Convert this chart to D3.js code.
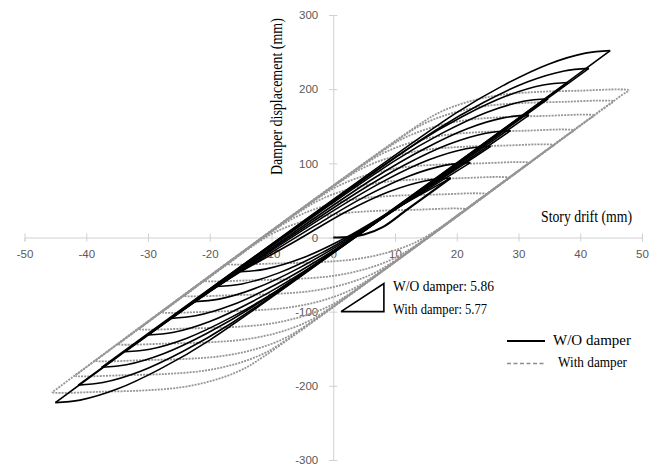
<!DOCTYPE html>
<html>
<head>
<meta charset="utf-8">
<script src="https://cdn.jsdelivr.net/npm/d3@7"></script>
<style>
  body { margin: 0; background: #fff; }
  svg { display: block; }
</style>
</head>
<body>
<script>
// axis ticks
const xTicks = [-50, -40, -30, -20, -10, 0, 10, 20, 30, 40, 50];
const yTicks = [-300, -200, -100, 0, 100, 200, 300];

// W/O damper: first loading from the origin
const woInitial = [[0, 0], [2.5, 0.5], [5, 4], [8, 14], [12, 38], [19, 80]];

// W/O damper: each loop = [upper branch, lower branch]
const woLoops = [
  [[[19, 80], [15, 76.6], [9, 61.7], [2, 34.4], [-6, -4.4], [-15, -46]],
   [[-15, -46], [-11, -42.6], [-5, -27.7], [2, -0.4], [10, 38.4], [19, 80]]],
  [[[22.2, 101], [18.2, 97.6], [12.2, 82.7], [5.2, 55.4], [-2.8, 16.6], [-18.8, -66]],
   [[-18.8, -66], [-14.8, -62.6], [-8.8, -47.7], [-1.8, -20.4], [6.2, 18.4], [22.2, 101]]],
  [[[25.5, 123], [21.5, 119.6], [15.5, 104.7], [8.5, 77.4], [0.5, 38.6], [-22.5, -86.5]],
   [[-22.5, -86.5], [-18.5, -83.1], [-12.5, -68.2], [-5.5, -40.9], [2.5, -2.1], [25.5, 123]]],
  [[[28.7, 144], [24.7, 140.6], [18.7, 125.7], [11.7, 98.4], [3.7, 59.6], [-26.3, -109]],
   [[-26.3, -109], [-22.3, -105.6], [-16.3, -90.7], [-9.3, -63.4], [-1.3, -24.6], [28.7, 144]]],
  [[[31.7, 165], [27.7, 161.6], [21.7, 146.7], [14.7, 119.4], [6.7, 80.6], [-30, -131.5]],
   [[-30, -131.5], [-26, -128.1], [-20, -113.2], [-13, -85.9], [-5, -47.1], [31.7, 165]]],
  [[[34.8, 187], [30.8, 183.6], [24.8, 168.7], [17.8, 141.4], [9.8, 102.6], [-33.7, -154]],
   [[-33.7, -154], [-29.7, -150.6], [-23.7, -135.7], [-16.7, -108.4], [-8.7, -69.6], [34.8, 187]]],
  [[[38, 209], [34, 205.6], [28, 190.7], [21, 163.4], [13, 124.6], [-37.5, -175]],
   [[-37.5, -175], [-33.5, -171.6], [-27.5, -156.7], [-20.5, -129.4], [-12.5, -90.6], [38, 209]]],
  [[[41.4, 228], [37.4, 224.6], [31.4, 209.7], [24.4, 182.4], [16.4, 143.6], [-41.3, -199]],
   [[-41.3, -199], [-37.3, -195.6], [-31.3, -180.7], [-24.3, -153.4], [-16.3, -114.6], [41.4, 228]]],
  [[[44.85, 252], [40.85, 248.6], [34.85, 233.7], [27.85, 206.4], [19.85, 167.6], [-45, -222.7]],
   [[-45, -222.7], [-41, -219.3], [-35, -204.4], [-28, -177.1], [-20, -138.3], [44.85, 252]]]
];

// With damper: closed loops (lower-left corner, bottom, upper-right corner, top)
const withLoops = [
  [[-16.27, -30.9], [-17.02, -35.8], [-15.67, -36.6], [-9.27, -35], [-2.27, -33.25], [3.63, -29.2], [8.78, -20.3], [13.33, -6.5], [17.13, 12.2],
   [20.33, 31.5], [21.43, 38], [20.03, 39.1], [13.63, 37.5], [6.63, 35.75], [0.73, 31.7], [-4.42, 22.8], [-8.97, 9], [-12.77, -9.7]],
  [[-19.99, -53.5], [-20.74, -58.4], [-19.39, -59.2], [-12.99, -57.6], [-5.99, -55.85], [-0.09, -51.8], [5.06, -42.9], [9.61, -29.1], [13.41, -10.4],
   [23.7, 52], [24.8, 58.5], [23.4, 59.6], [17, 58], [10, 56.25], [4.1, 52.2], [-1.05, 43.3], [-5.6, 29.5], [-9.4, 10.8]],
  [[-23.31, -73.7], [-24.06, -78.6], [-22.71, -79.4], [-16.31, -77.8], [-9.31, -76.05], [-3.41, -72], [1.74, -63.1], [6.29, -49.3], [10.09, -30.6],
   [27.32, 74], [28.42, 80.5], [27.02, 81.6], [20.62, 80], [13.62, 78.25], [7.72, 74.2], [2.57, 65.3], [-1.98, 51.5], [-5.78, 32.8]],
  [[-26.96, -95.9], [-27.71, -100.8], [-26.36, -101.6], [-19.96, -100], [-12.96, -98.25], [-7.06, -94.2], [-1.91, -85.3], [2.64, -71.5], [6.44, -52.8],
   [30.61, 94], [31.71, 100.5], [30.31, 101.6], [23.91, 100], [16.91, 98.25], [11.01, 94.2], [5.86, 85.3], [1.31, 71.5], [-2.49, 52.8]],
  [[-30.69, -118.6], [-31.44, -123.5], [-30.09, -124.3], [-23.69, -122.7], [-16.69, -120.95], [-10.79, -116.9], [-5.64, -108], [-1.09, -94.2], [2.71, -75.5],
   [34.56, 118], [35.66, 124.5], [34.26, 125.6], [27.86, 124], [20.86, 122.25], [14.96, 118.2], [9.81, 109.3], [5.26, 95.5], [1.46, 76.8]],
  [[-34.03, -138.9], [-34.78, -143.8], [-33.43, -144.6], [-27.03, -143], [-20.03, -141.25], [-14.13, -137.2], [-8.98, -128.3], [-4.43, -114.5], [-0.63, -95.8],
   [37.84, 138], [38.94, 144.5], [37.54, 145.6], [31.14, 144], [24.14, 142.25], [18.24, 138.2], [13.09, 129.3], [8.54, 115.5], [4.74, 96.8]],
  [[-37.72, -161.3], [-38.47, -166.2], [-37.12, -167], [-30.72, -165.4], [-23.72, -163.65], [-17.82, -159.6], [-12.67, -150.7], [-8.12, -136.9], [-4.32, -118.2],
   [41.13, 158], [42.23, 164.5], [40.83, 165.6], [34.43, 164], [27.43, 162.25], [21.53, 158.2], [16.38, 149.3], [11.83, 135.5], [8.03, 116.8]],
  [[-41.06, -181.6], [-41.81, -186.5], [-40.46, -187.3], [-34.06, -185.7], [-27.06, -183.95], [-21.16, -179.9], [-16.01, -171], [-11.46, -157.2], [-7.66, -138.5],
   [44.26, 177], [45.36, 183.5], [43.96, 184.6], [37.56, 183], [30.56, 181.25], [24.66, 177.2], [19.51, 168.3], [14.96, 154.5], [11.16, 135.8]],
  [[-44.72, -203.9], [-45.47, -208.8], [-44.12, -209.6], [-37.72, -208], [-30.72, -206.25], [-24.82, -202.2], [-19.67, -193.3], [-15.12, -179.5], [-11.32, -160.8],
   [46.73, 192], [47.83, 198.5], [46.43, 199.6], [40.03, 198], [33.03, 196.25], [27.13, 192.2], [21.98, 183.3], [17.43, 169.5], [13.63, 150.8]]
];

// slope triangle and its notes
const slopeTriangle = [[1.25, -100], [8.2, -100], [8.2, -62], [1.25, -100]];
const slopeNotes = ["W/O damper: 5.86", "With damper: 5.77"];
const legendLabels = ["W/O damper", "With damper"];

let svg = d3.select("body").append("svg")
  .attr("width", 661)
  .attr("height", 467)
  .attr("viewBox", "0 0 661 467");

//Scales
let x = d3.scaleLinear().domain([-50, 50]).range([24.5, 642]);
let y = d3.scaleLinear().domain([-300, 300]).range([460, 15]);

const AXIS_COLOR = "#d0d0d0",
      LABEL_COLOR = "#595959",
      SERIF = "'Liberation Serif', 'DejaVu Serif', serif";

//Axises
let xAxis = svg.append("g")
  .attr("class", "x axis")
  .attr("transform", "translate(0," + y(0) + ")")
  .call(d3.axisBottom(x).tickValues(xTicks).tickSizeOuter(0).tickSize(4).tickFormat(d => String(d)));
xAxis.selectAll(".tick line").attr("y1", -4).attr("y2", 4);
xAxis.selectAll(".tick text").attr("y", 17).attr("dy", "0.32em");

let yAxis = svg.append("g")
  .attr("class", "y axis")
  .attr("transform", "translate(" + x(0) + ",0)")
  .call(d3.axisLeft(y).tickValues(yTicks).tickSizeOuter(0).tickSize(4).tickFormat(d => String(d)));
yAxis.selectAll(".tick line").attr("x1", -4).attr("x2", 4);
yAxis.selectAll(".tick text").attr("x", -15).attr("dy", "0.32em");

svg.selectAll(".axis path, .axis line").attr("stroke", AXIS_COLOR).attr("stroke-width", 1);
svg.selectAll(".axis text")
  .attr("fill", LABEL_COLOR)
  .style("font-family", "'Liberation Sans', Arial, sans-serif")
  .style("font-size", "11.5px");

//Curves
let branch = d3.line()
  .x(d => x(d[0]))
  .y(d => y(d[1]))
  .curve(d3.curveCatmullRom.alpha(0.5));
let loop = d3.line()
  .x(d => x(d[0]))
  .y(d => y(d[1]))
  .curve(d3.curveCatmullRomClosed.alpha(0.5));

let plot = svg.append("g");

plot.selectAll(".with")
  .data(withLoops)
  .enter().append("path")
  .attr("class", "with")
  .attr("d", loop)
  .attr("fill", "none")
  .attr("stroke", "#969696")
  .attr("stroke-width", 1.8)
  .attr("stroke-dasharray", "2,1.1");

plot.selectAll(".wo")
  .data(woLoops.flat())
  .enter().append("path")
  .attr("class", "wo")
  .attr("d", branch)
  .attr("fill", "none")
  .attr("stroke", "#000")
  .attr("stroke-width", 1.6)
  .attr("stroke-linejoin", "round");

plot.append("path")
  .attr("d", branch(woInitial))
  .attr("fill", "none")
  .attr("stroke", "#000")
  .attr("stroke-width", 2.2);

// slope note
svg.append("path")
  .attr("d", d3.line().x(d => x(d[0])).y(d => y(d[1]))(slopeTriangle))
  .attr("fill", "none")
  .attr("stroke", "#000")
  .attr("stroke-width", 1.6);

svg.selectAll(".note")
  .data(slopeNotes)
  .enter().append("text")
  .attr("class", "note")
  .attr("x", 393)
  .attr("y", (d, i) => 290.5 + i * 23)
  .attr("textLength", (d, i) => i === 0 ? 101 : 94)
  .attr("lengthAdjust", "spacingAndGlyphs")
  .style("font-family", SERIF)
  .style("font-size", "15px")
  .attr("fill", "#000")
  .text(d => d);

// axis titles
svg.append("text")
  .attr("transform", "translate(282,175) rotate(-90) scale(0.875,1)")
  .style("font-family", SERIF)
  .style("font-size", "16px")
  .attr("fill", "#000")
  .text("Damper displacement (mm)");

svg.append("text")
  .attr("x", 541)
  .attr("y", 222)
  .attr("textLength", 91)
  .attr("lengthAdjust", "spacingAndGlyphs")
  .style("font-family", SERIF)
  .style("font-size", "16px")
  .attr("fill", "#000")
  .text("Story drift (mm)");

// legend
let legend = svg.append("g").attr("class", "legend");
legend.append("line")
  .attr("x1", 507).attr("x2", 545).attr("y1", 341).attr("y2", 341)
  .attr("stroke", "#000").attr("stroke-width", 2);
legend.append("line")
  .attr("x1", 507).attr("x2", 545).attr("y1", 363.5).attr("y2", 363.5)
  .attr("stroke", "#8c8c8c").attr("stroke-width", 1.5)
  .attr("stroke-dasharray", "4,2.5");
legend.selectAll("text")
  .data(legendLabels)
  .enter().append("text")
  .attr("x", (d, i) => i === 0 ? 553 : 558)
  .attr("y", (d, i) => 345 + i * 22)
  .attr("textLength", (d, i) => i === 0 ? 78 : 69)
  .attr("lengthAdjust", "spacingAndGlyphs")
  .style("font-family", SERIF)
  .style("font-size", "15px")
  .attr("fill", "#000")
  .text(d => d);
</script>
</body>
</html>
